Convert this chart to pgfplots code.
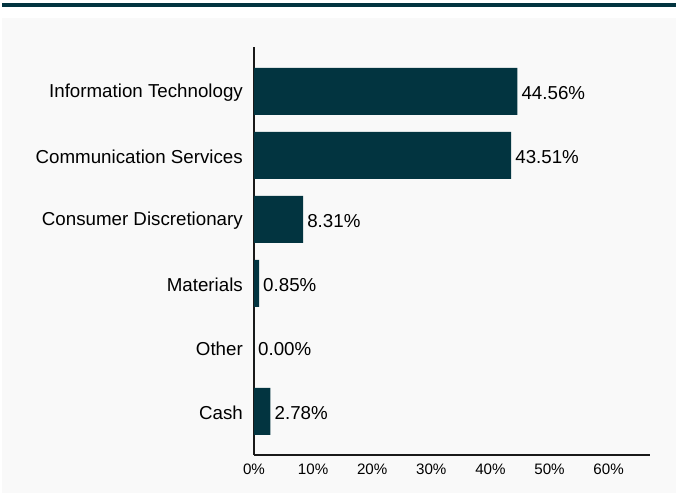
\documentclass[border=0pt]{standalone}
\usepackage{pgfplots}
\pgfplotsset{compat=1.18}
\usepackage{fontspec}
\setmainfont{Liberation Sans}
\definecolor{bardark}{RGB}{2,52,64}
\definecolor{panel}{RGB}{249,249,249}
\begin{document}
\begin{tikzpicture}
  % background panel and top rule
  \fill[panel] (2bp,0bp) rectangle (676bp,475bp);
  \fill[bardark] (2bp,486bp) rectangle (676bp,490bp);
  \begin{axis}[
      at={(254bp,38bp)}, anchor=south west,
      scale only axis, width=396bp, height=408bp,
      xbar, bar width=47bp,
      xmin=0, xmax=67, ymin=-0.68, ymax=5.695,
      axis lines=left,
      axis line style={-, line width=2bp, black!90},
      xtick={0,10,20,30,40,50,60},
      xticklabel={\pgfmathprintnumber{\tick}\%},
      ytick={0,1,2,3,4,5},
      yticklabels={Cash,Other,Materials,Consumer Discretionary,Communication Services,Information Technology},
      major tick length=0pt,
      /pgf/number format/assume math mode=true,
      xticklabel style={font=\fontsize{15.2}{17}\selectfont, inner sep=0pt, anchor=north, yshift=-9bp},
      yticklabel style={font=\fontsize{18.8}{20}\selectfont, inner sep=0pt, anchor=east, xshift=-11bp, yshift=-1bp},
      nodes near coords={\pgfmathprintnumber[fixed,fixed zerofill,precision=2]{\pgfplotspointmeta}\%},
      nodes near coords style={font=\fontsize{18.8}{20}\selectfont, anchor=west, inner sep=0pt, xshift=4bp, yshift=-2bp},
      point meta=x,
      clip=false,
    ]
    \addplot[fill=bardark, draw=none] coordinates {
      (2.78,0) (0.00,1) (0.85,2) (8.31,3) (43.51,4) (44.56,5)
    };
  \end{axis}
  \pgfresetboundingbox
  \path (0bp,0bp) rectangle (676bp,493bp);
\end{tikzpicture}
\end{document}
